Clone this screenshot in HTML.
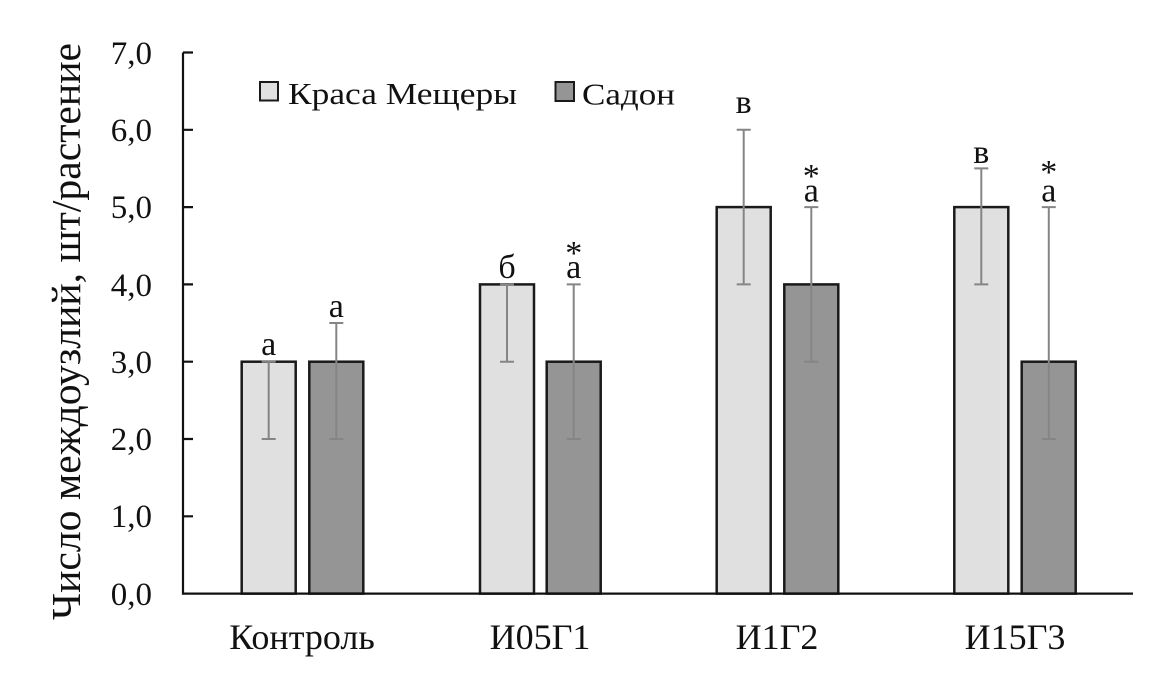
<!DOCTYPE html>
<html><head><meta charset="utf-8"><style>
html,body{margin:0;padding:0;background:#fff;}
svg{display:block;}
text{font-family:"Liberation Serif","Times New Roman",serif;fill:#111;}
</style></head><body>
<svg width="1158" height="679" viewBox="0 0 1158 679" xmlns="http://www.w3.org/2000/svg">
<rect width="1158" height="679" fill="#fff"/>
<!-- Y axis title -->
<text transform="translate(80,331.5) rotate(-90)" text-anchor="middle" font-size="41" textLength="577" lengthAdjust="spacingAndGlyphs">Число междоузлий, шт/растение</text>
<!-- tick labels -->
<g font-size="33" text-anchor="end">
<text x="152" y="64">7,0</text>
<text x="152" y="141">6,0</text>
<text x="152" y="218">5,0</text>
<text x="152" y="296">4,0</text>
<text x="152" y="373">3,0</text>
<text x="152" y="450">2,0</text>
<text x="152" y="527">1,0</text>
<text x="152" y="605">0,0</text>
</g>
<!-- bars -->
<g stroke="#1a1a1a" stroke-width="2.5">
<rect x="241.7" y="361.7" width="54" height="231.9" fill="#e0e0e0"/>
<rect x="309.3" y="361.7" width="54" height="231.9" fill="#959595"/>
<rect x="480" y="284.4" width="54" height="309.2" fill="#e0e0e0"/>
<rect x="546.7" y="361.7" width="54" height="231.9" fill="#959595"/>
<rect x="716.7" y="207.1" width="54" height="386.5" fill="#e0e0e0"/>
<rect x="784.3" y="284.4" width="54" height="309.2" fill="#959595"/>
<rect x="954.3" y="207.1" width="54" height="386.5" fill="#e0e0e0"/>
<rect x="1021.7" y="361.7" width="54" height="231.9" fill="#959595"/>
</g>
<!-- error bars -->
<g stroke="#858585" stroke-width="2" fill="none">
<path d="M268.7 361.7V439M261.7 361.7h14M261.7 439h14"/>
<path d="M336.3 323V439M329.3 323h14M329.3 439h14"/>
<path d="M507 284.4V361.7M500 284.4h14M500 361.7h14"/>
<path d="M573.7 284.4V439M566.7 284.4h14M566.7 439h14"/>
<path d="M743.7 129.8V284.4M736.7 129.8h14M736.7 284.4h14"/>
<path d="M811.3 207.1V361.7M804.3 207.1h14M804.3 361.7h14"/>
<path d="M981.3 168.4V284.4M974.3 168.4h14M974.3 284.4h14"/>
<path d="M1048.8 207.1V439M1041.8 207.1h14M1041.8 439h14"/>
</g>
<!-- axes -->
<g stroke="#111" stroke-width="2.2" fill="none">
<path d="M183 52.5V593.6H1133"/>
<path d="M183 52.5h10M183 129.8h10M183 207.1h10M183 284.4h10M183 361.7h10M183 439h10M183 516.3h10"/>
</g>
<!-- significance letters -->
<g font-size="34" text-anchor="middle">
<text x="268.7" y="355">а</text>
<text x="336.3" y="317">а</text>
<text x="507" y="278">б</text>
<text x="573.7" y="278">а</text>
<text x="743.7" y="113">в</text>
<text x="811.3" y="201.5">а</text>
<text x="981.3" y="163">в</text>
<text x="1048.8" y="201.5">а</text>
<text x="573.7" y="264">*</text>
<text x="811.3" y="187">*</text>
<text x="1048.8" y="183">*</text>
</g>
<!-- legend -->
<rect x="260" y="82" width="18" height="18.5" fill="#e0e0e0" stroke="#1a1a1a" stroke-width="2"/>
<text x="288" y="104" font-size="31" textLength="229" lengthAdjust="spacingAndGlyphs">Краса Мещеры</text>
<rect x="555.5" y="82" width="18.5" height="19" fill="#959595" stroke="#1a1a1a" stroke-width="2"/>
<text x="582" y="104.5" font-size="31" textLength="93" lengthAdjust="spacingAndGlyphs">Садон</text>
<!-- x labels -->
<g font-size="36" text-anchor="middle">
<text x="302" y="649">Контроль</text>
<text x="540" y="649">И05Г1</text>
<text x="777" y="649">И1Г2</text>
<text x="1015" y="649">И15Г3</text>
</g>
</svg>
</body></html>
